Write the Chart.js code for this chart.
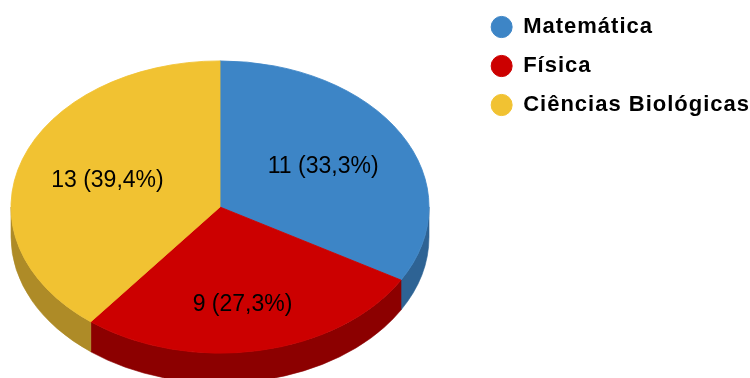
<!DOCTYPE html>
<html>
<head>
<meta charset="utf-8">
<script src="https://cdn.jsdelivr.net/npm/chart.js@4.4.0/dist/chart.umd.min.js"></script>
<style>
html, body { margin: 0; padding: 0; background: #fff; }
canvas { display: block; }
</style>
</head>
<body>
<canvas id="pieChart" width="750" height="378"></canvas>
<script>
var labels = ["Matemática", "Física", "Ciências Biológicas"];
var counts = [11, 9, 13];
var topColors = ["#3d85c6", "#cc0000", "#f1c232"];
var sideColors = ["#2e6394", "#8c0000", "#ae8b27"];

// where the tilted pie sits, how flat it is and how thick the rim is
var CX = 220, CY = 207, TILT = 0.699, DEPTH = 30;

var total = counts.reduce(function (a, b) { return a + b; }, 0);

function valueText(v) {
    return v + " (" + (v / total * 100).toFixed(1).replace(".", ",") + "%)";
}

var tiltPlugin = {
    id: "tilt",
    beforeLayout: function (chart) { chart.ctx.letterSpacing = "1px"; },
    beforeDraw: function (chart) { chart.ctx.letterSpacing = "1px"; },
    beforeDatasetsDraw: function (chart) {
        var ctx = chart.ctx;
        var arcs = chart.getDatasetMeta(0).data;
        // rim walls, only the front half is visible
        arcs.forEach(function (arc, i) {
            var rx = arc.outerRadius, ry = rx * TILT;
            [[0, Math.PI], [2 * Math.PI, 3 * Math.PI]].forEach(function (win) {
                var a0 = Math.max(arc.startAngle, win[0]);
                var a1 = Math.min(arc.endAngle, win[1]);
                if (a1 <= a0) return;
                ctx.beginPath();
                ctx.ellipse(CX, CY, rx, ry, 0, a0, a1);
                ctx.ellipse(CX, CY + DEPTH, rx, ry, 0, a1, a0, true);
                ctx.closePath();
                ctx.fillStyle = sideColors[i];
                ctx.strokeStyle = sideColors[i];
                ctx.lineWidth = 0.6;
                ctx.fill();
                ctx.stroke();
            });
        });
        // squash the top face into an ellipse
        var c = arcs[0];
        ctx.save();
        ctx.translate(CX, CY);
        ctx.scale(1, TILT);
        ctx.translate(-c.x, -c.y);
    },
    afterDatasetsDraw: function (chart) {
        var ctx = chart.ctx;
        ctx.restore();
        var arcs = chart.getDatasetMeta(0).data;
        ctx.save();
        ctx.letterSpacing = "0px";
        ctx.font = "23px 'Liberation Sans', Arial, sans-serif";
        ctx.fillStyle = "#000";
        ctx.textAlign = "center";
        ctx.textBaseline = "middle";
        arcs.forEach(function (arc, i) {
            var mid = (arc.startAngle + arc.endAngle) / 2;
            var r = arc.outerRadius * 0.57;
            var s = Math.sin(mid);
            var x = CX + r * Math.cos(mid);
            var y = CY + r * s * TILT + (s > 0 ? s * DEPTH / 2 : 0);
            ctx.fillText(valueText(counts[i]), x, y + 1);
        });
        ctx.restore();
    }
};

var pieChart = new Chart(document.getElementById("pieChart"), {
    type: "pie",
    data: {
        labels: labels,
        datasets: [{
            data: counts,
            backgroundColor: topColors,
            borderColor: topColors,
            borderWidth: 1,
            radius: 209,
            clip: false
        }]
    },
    options: {
        responsive: false,
        animation: false,
        events: [],
        layout: { padding: { top: -1, right: -10, left: 0, bottom: 0 } },
        plugins: {
            tooltip: { enabled: false },
            legend: {
                position: "right",
                align: "start",
                labels: {
                    usePointStyle: true,
                    pointStyle: "circle",
                    boxHeight: 15,
                    pointStyleWidth: 21,
                    padding: 17,
                    color: "#000",
                    font: { family: "'Liberation Sans', Arial, sans-serif", size: 22, weight: "bold" }
                }
            }
        }
    },
    plugins: [tiltPlugin]
});
</script>
</body>
</html>
